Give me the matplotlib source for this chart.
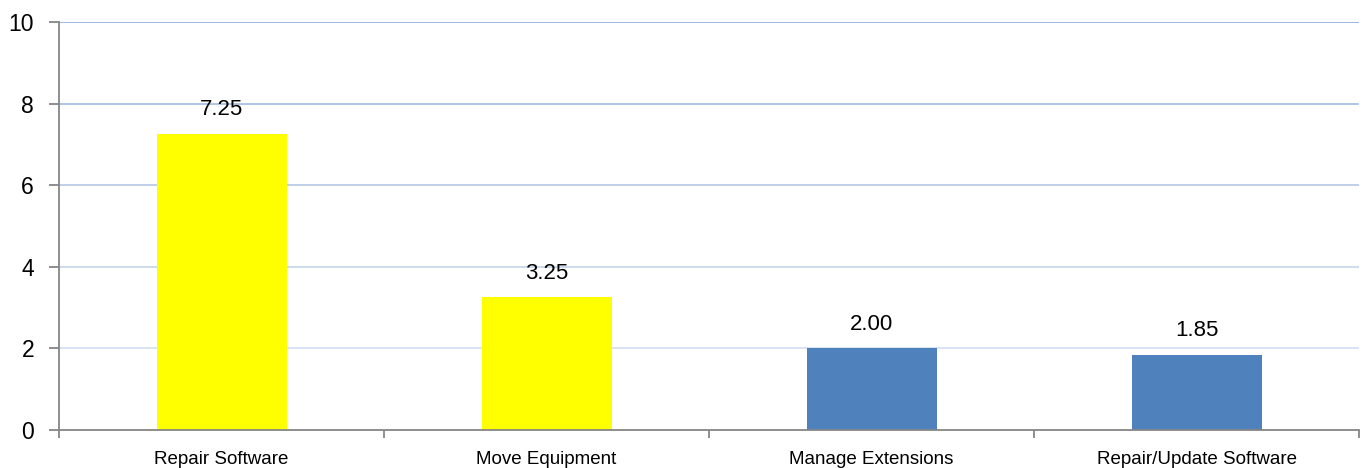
import numpy as np
import matplotlib.pyplot as plt

#---- Data -------------------------------------------------------------------#

categories = ['Repair Software', 'Move Equipment', 'Manage Extensions',
              'Repair/Update Software']
values = [7.25, 3.25, 2.00, 1.85]
bar_colors = ['#FFFF00', '#FFFF00', '#4F81BD', '#4F81BD']
y_ticks = [0, 2, 4, 6, 8, 10]
grid_colors = ['#DCE6F2', '#D5E0F0', '#C9D7EC', '#BACCE7', '#AABFE2', '#98B2DD']

#---- Plotting ---------------------------------------------------------------#

plt.rcParams['font.family'] = ['Liberation Sans', 'DejaVu Sans']

fig = plt.figure(figsize=(13.66, 4.68), dpi=100)
ax = fig.add_axes([0.0432, 0.0812, 0.9517, 0.8718])

x = np.arange(len(categories))
ax.bar(x, values, width=0.4, color=bar_colors, zorder=3)

#Gridlines fade from blue at top to pale at bottom
for t, c in zip(y_ticks[1:], grid_colors[1:]):
    ax.axhline(t, color=c, lw=1.3, zorder=1)

for xi, v in zip(x, values):
    ax.annotate(f'{v:.2f}', (xi, v), xytext=(0, 10), textcoords='offset points',
                ha='center', va='bottom', fontsize=16)

ax.set_xlim(-0.5, len(categories) - 0.5)
ax.set_ylim(0, 10)
ax.set_yticks(y_ticks)
ax.tick_params(axis='y', labelsize=16.5, length=7, width=1.3, color='#868686',
               pad=11)

#Category labels centred, tick marks at category boundaries
ax.set_xticks(x)
ax.set_xticklabels(categories, fontsize=13.5)
ax.tick_params(axis='x', which='major', length=0, pad=15)
ax.set_xticks(np.arange(-0.5, len(categories), 1.0), minor=True)
ax.tick_params(axis='x', which='minor', length=6, width=1.3, color='#868686')

for s in ['top', 'right']:
    ax.spines[s].set_visible(False)
for s in ['left', 'bottom']:
    ax.spines[s].set_color('#868686')
    ax.spines[s].set_linewidth(1.3)
    ax.spines[s].set_zorder(4)

plt.savefig('out.png')
